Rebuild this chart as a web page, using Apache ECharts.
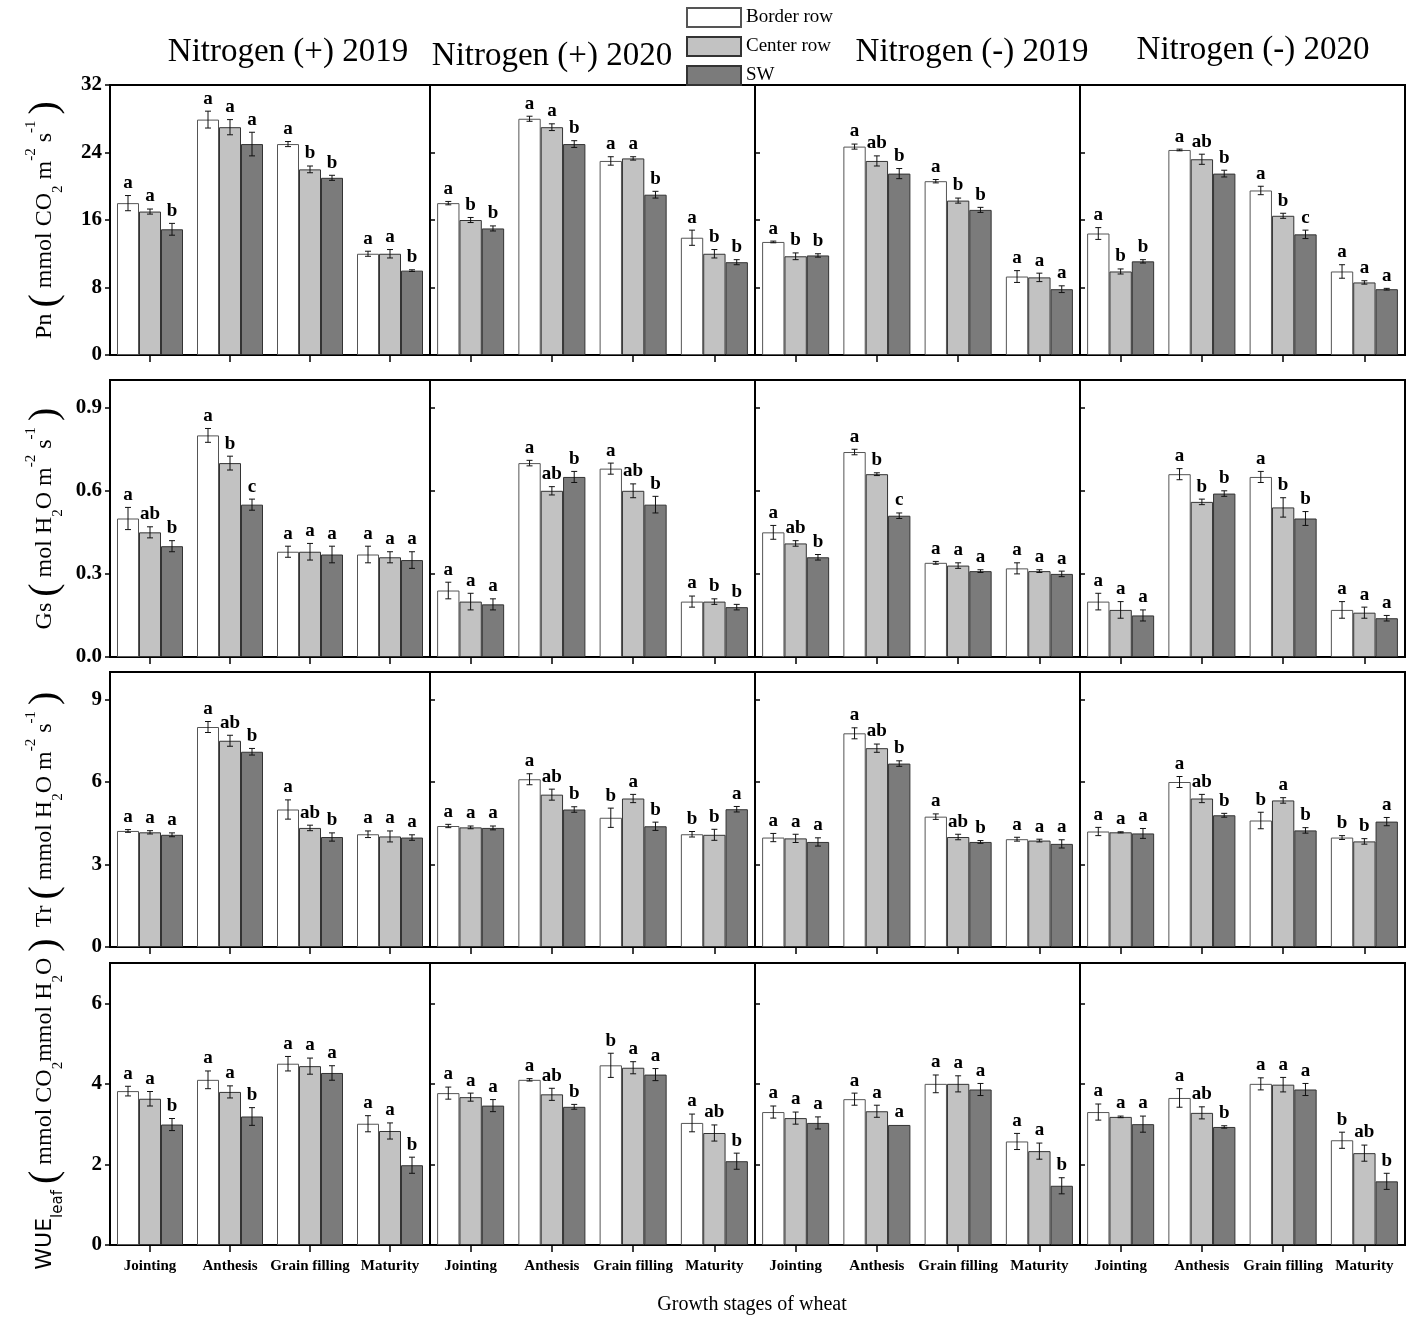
<!DOCTYPE html>
<html>
<head>
<meta charset="utf-8">
<title>Growth stages of wheat</title>
<script src="https://cdn.jsdelivr.net/npm/echarts/dist/echarts.min.js"></script>
<style>
  html, body { margin: 0; padding: 0; background: #fff; }
  #chart { width: 1417px; height: 1326px; }
</style>
</head>
<body>
<div id="chart"></div>
<script>
// categories / labels
var stages = ['Jointing', 'Anthesis', 'Grain filling', 'Maturity'];
var treatments = ['Nitrogen (+) 2019', 'Nitrogen (+) 2020', 'Nitrogen (-) 2019', 'Nitrogen (-) 2020'];
var rowTypes = ['Border row', 'Center row', 'SW'];

// Pn, one inner array per treatment (4 stages each)
var pnBorder = [[18.0, 27.9, 25.0, 12.0], [18.0, 28.0, 23.0, 13.9], [13.4, 24.7, 20.6, 9.3], [14.4, 24.3, 19.5, 9.9]];
var pnCenter = [[17.0, 27.0, 22.0, 12.0], [16.0, 27.0, 23.3, 12.0], [11.7, 23.0, 18.3, 9.2], [9.9, 23.2, 16.5, 8.6]];
var pnSW = [[14.9, 25.0, 21.0, 10.0], [15.0, 25.0, 19.0, 11.0], [11.8, 21.5, 17.2, 7.8], [11.1, 21.5, 14.3, 7.8]];
var pnBorderErr = [[0.9, 1.0, 0.3, 0.3], [0.2, 0.3, 0.5, 0.9], [0.1, 0.3, 0.2, 0.7], [0.7, 0.1, 0.5, 0.8]];
var pnCenterErr = [[0.3, 0.9, 0.4, 0.5], [0.3, 0.4, 0.2, 0.5], [0.4, 0.6, 0.3, 0.5], [0.3, 0.6, 0.3, 0.2]];
var pnSWErr = [[0.7, 1.4, 0.3, 0.1], [0.3, 0.4, 0.4, 0.3], [0.2, 0.6, 0.3, 0.4], [0.2, 0.4, 0.5, 0.1]];
var pnLetters = [['a a b', 'a a a', 'a b b', 'a a b'], ['a b b', 'a a b', 'a a b', 'a b b'],
                 ['a b b', 'a ab b', 'a b b', 'a a a'], ['a b b', 'a ab b', 'a b c', 'a a a']];

// Gs
var gsBorder = [[0.50, 0.80, 0.38, 0.37], [0.24, 0.70, 0.68, 0.20], [0.45, 0.74, 0.34, 0.32], [0.20, 0.66, 0.65, 0.17]];
var gsCenter = [[0.45, 0.70, 0.38, 0.36], [0.20, 0.60, 0.60, 0.20], [0.41, 0.66, 0.33, 0.31], [0.17, 0.56, 0.54, 0.16]];
var gsSW = [[0.40, 0.55, 0.37, 0.35], [0.19, 0.65, 0.55, 0.18], [0.36, 0.51, 0.31, 0.30], [0.15, 0.59, 0.50, 0.14]];
var gsBorderErr = [[0.04, 0.025, 0.02, 0.03], [0.03, 0.01, 0.02, 0.02], [0.025, 0.01, 0.005, 0.02], [0.03, 0.02, 0.02, 0.03]];
var gsCenterErr = [[0.02, 0.025, 0.03, 0.02], [0.03, 0.015, 0.025, 0.01], [0.01, 0.005, 0.01, 0.005], [0.03, 0.01, 0.035, 0.02]];
var gsSWErr = [[0.02, 0.02, 0.03, 0.03], [0.02, 0.02, 0.03, 0.01], [0.01, 0.01, 0.005, 0.01], [0.02, 0.01, 0.025, 0.01]];
var gsLetters = [['a ab b', 'a b c', 'a a a', 'a a a'], ['a a a', 'a ab b', 'a ab b', 'a b b'],
                 ['a ab b', 'a b c', 'a a a', 'a a a'], ['a a a', 'a b b', 'a b b', 'a a a']];

// Tr
var trBorder = [[4.22, 8.0, 5.0, 4.1], [4.4, 6.1, 4.7, 4.1], [3.98, 7.77, 4.74, 3.92], [4.2, 6.0, 4.6, 3.98]];
var trCenter = [[4.17, 7.5, 4.33, 4.02], [4.35, 5.54, 5.4, 4.08], [3.95, 7.23, 4.0, 3.87], [4.17, 5.4, 5.33, 3.84]];
var trSW = [[4.08, 7.1, 4.0, 3.98], [4.33, 5.0, 4.39, 5.01], [3.82, 6.67, 3.82, 3.75], [4.13, 4.79, 4.24, 4.56]];
var trBorderErr = [[0.05, 0.2, 0.35, 0.12], [0.06, 0.2, 0.35, 0.1], [0.15, 0.2, 0.1, 0.07], [0.15, 0.2, 0.3, 0.07]];
var trCenterErr = [[0.06, 0.2, 0.1, 0.2], [0.05, 0.2, 0.15, 0.2], [0.15, 0.15, 0.1, 0.05], [0.02, 0.15, 0.1, 0.1]];
var trSWErr = [[0.07, 0.12, 0.15, 0.1], [0.07, 0.1, 0.15, 0.1], [0.15, 0.1, 0.05, 0.15], [0.18, 0.07, 0.1, 0.15]];
var trLetters = [['a a a', 'a ab b', 'a ab b', 'a a a'], ['a a a', 'a ab b', 'b a b', 'b b a'],
                 ['a a a', 'a ab b', 'a ab b', 'a a a'], ['a a a', 'a ab b', 'b a b', 'b b a']];

// WUE leaf
var wueBorder = [[3.82, 4.1, 4.5, 3.01], [3.77, 4.1, 4.46, 3.03], [3.3, 3.62, 4.0, 2.57], [3.3, 3.65, 4.0, 2.6]];
var wueCenter = [[3.63, 3.8, 4.44, 2.83], [3.67, 3.74, 4.4, 2.78], [3.15, 3.32, 4.0, 2.33], [3.18, 3.28, 3.98, 2.28]];
var wueSW = [[2.99, 3.19, 4.27, 1.98], [3.46, 3.43, 4.23, 2.08], [3.03, 2.98, 3.86, 1.47], [3.0, 2.93, 3.86, 1.58]];
var wueBorderErr = [[0.12, 0.22, 0.18, 0.2], [0.15, 0.03, 0.3, 0.22], [0.15, 0.15, 0.22, 0.2], [0.2, 0.23, 0.15, 0.2]];
var wueCenterErr = [[0.18, 0.15, 0.2, 0.2], [0.1, 0.15, 0.15, 0.2], [0.15, 0.15, 0.2, 0.2], [0.02, 0.15, 0.18, 0.2]];
var wueSWErr = [[0.15, 0.22, 0.18, 0.2], [0.15, 0.06, 0.15, 0.2], [0.15, 0, 0.15, 0.2], [0.2, 0.03, 0.15, 0.2]];
var wueLetters = [['a a b', 'a a b', 'a a a', 'a a b'], ['a a a', 'a ab b', 'b a a', 'a ab b'],
                  ['a a a', 'a a a', 'a a a', 'a a b'], ['a a a', 'a ab b', 'a a a', 'b ab b']];

// axis scales per row
var yMax = [32, 1.0, 10, 7];
var yStep = [8, 0.3, 3, 2];
var yNames = [
    'Pn {p|(} mmol CO{sub|2} m{sup|-2} s{sup|-1} {p|)}',
    'Gs {p|(} mol H{sub|2}O m{sup|-2} s{sup|-1} {p|)}',
    'Tr {p|(} mmol H{sub|2}O m{sup|-2} s{sup|-1} {p|)}',
    '{w|WUE}{ws|leaf} {p|(} mmol CO{sub|2}mmol H{sub|2}O {p|)}'
];

var rows = [
    {vals: [pnBorder, pnCenter, pnSW], errs: [pnBorderErr, pnCenterErr, pnSWErr], letters: pnLetters},
    {vals: [gsBorder, gsCenter, gsSW], errs: [gsBorderErr, gsCenterErr, gsSWErr], letters: gsLetters},
    {vals: [trBorder, trCenter, trSW], errs: [trBorderErr, trCenterErr, trSWErr], letters: trLetters},
    {vals: [wueBorder, wueCenter, wueSW], errs: [wueBorderErr, wueCenterErr, wueSWErr], letters: wueLetters}
];

var colX = [110, 430, 755, 1080, 1405];
var rowY = [[85, 355], [380, 657], [672, 947], [963, 1245]];
var barColors = ['#ffffff', '#c2c2c2', '#7b7b7b'];
var barEdges = ['#555555', '#333333', '#333333'];
var serif = 'Liberation Serif';

var myChart = echarts.init(document.getElementById('chart'));

function errRender(s, letterList) {
    return function (params, api) {
        var ci = api.value(0), v = api.value(1), e = api.value(2);
        var w = api.size([1, 0])[0];
        var x = api.coord([ci, v])[0] + (s - 1) * w * 0.275;
        var yt = api.coord([ci, v + e])[1];
        var yb = api.coord([ci, v - e])[1];
        var st = {stroke: '#111', lineWidth: 1};
        var kids = [];
        if (e > 0) {
            kids.push({type: 'line', shape: {x1: x, y1: yt, x2: x, y2: yb}, style: st});
            kids.push({type: 'line', shape: {x1: x - 3, y1: yt, x2: x + 3, y2: yt}, style: st});
            kids.push({type: 'line', shape: {x1: x - 3, y1: yb, x2: x + 3, y2: yb}, style: st});
        }
        kids.push({
            type: 'text', x: x, y: yt - 3,
            style: {
                text: letterList[ci].split(' ')[s],
                align: 'center', verticalAlign: 'bottom',
                textAlign: 'center', textVerticalAlign: 'bottom',
                font: 'bold 19px "' + serif + '"', fill: '#000'
            }
        });
        return {type: 'group', children: kids};
    };
}

var grids = [], xAxes = [], yAxes = [], series = [];
for (var r = 0; r < 4; r++) {
    for (var c = 0; c < 4; c++) {
        var g = r * 4 + c;
        grids.push({
            left: colX[c], width: colX[c + 1] - colX[c],
            top: rowY[r][0], height: rowY[r][1] - rowY[r][0],
            show: true, borderColor: '#000', borderWidth: 2,
            containLabel: false, outerBoundsMode: 'none'
        });
        xAxes.push({
            gridIndex: g, type: 'category', data: stages,
            axisLine: {show: true, lineStyle: {color: '#000', width: 2}},
            axisTick: {show: true, alignWithLabel: true, length: 7, lineStyle: {color: '#000', width: 1.5}},
            axisLabel: {
                show: r === 3, interval: 0, margin: 14, color: '#000',
                fontFamily: serif, fontWeight: 'bold', fontSize: 15
            },
            splitLine: {show: false}
        });
        yAxes.push({
            gridIndex: g, type: 'value', min: 0, max: yMax[r], interval: yStep[r],
            axisLine: {show: true, lineStyle: {color: '#000', width: 2}},
            axisTick: {show: true, inside: c > 0, length: 5, lineStyle: {color: '#000', width: 1.5}},
            axisLabel: {
                show: c === 0, showMaxLabel: r === 0, margin: 8, color: '#000',
                fontFamily: serif, fontWeight: 'bold', fontSize: 21,
                formatter: (function (rr) {
                    return function (v) { return rr === 1 ? v.toFixed(1) : String(v); };
                })(r)
            },
            splitLine: {show: false},
            name: c === 0 ? yNames[r] : '',
            nameLocation: 'middle', nameGap: 44, nameRotate: 90, nameMoveOverlap: false,
            nameTextStyle: {
                fontFamily: serif, fontSize: 24, color: '#000', lineHeight: 42,
                rich: {
                    p: {fontFamily: serif, fontSize: 40, lineHeight: 42, color: '#000'},
                    sub: {fontFamily: serif, fontSize: 15, lineHeight: 17, verticalAlign: 'bottom', color: '#000'},
                    sup: {fontFamily: serif, fontSize: 15, lineHeight: 17, verticalAlign: 'top', color: '#000'},
                    w: {fontFamily: 'DejaVu Sans', fontSize: 22, lineHeight: 42, color: '#000'},
                    ws: {fontFamily: 'DejaVu Sans', fontSize: 15, lineHeight: 15, verticalAlign: 'bottom', color: '#000'}
                }
            }
        });
        for (var s = 0; s < 3; s++) {
            var vals = rows[r].vals[s][c];
            var errs = rows[r].errs[s][c];
            series.push({
                name: rowTypes[s], type: 'bar', xAxisIndex: g, yAxisIndex: g,
                data: vals, barGap: '0%', barCategoryGap: '17.5%',
                itemStyle: {color: barColors[s], borderColor: barEdges[s], borderWidth: 1},
                emphasis: {disabled: true}, animation: false
            });
            var errData = [];
            for (var k = 0; k < 4; k++) errData.push([k, vals[k], errs[k]]);
            series.push({
                type: 'custom', xAxisIndex: g, yAxisIndex: g, data: errData,
                renderItem: errRender(s, rows[r].letters[c]),
                silent: true, animation: false, z: 5
            });
        }
    }
}

var titleX = [288, 552, 972, 1253];
var titleY = [52, 56, 52, 50];
var graphics = [];
for (var t = 0; t < 4; t++) {
    graphics.push({
        type: 'text', x: titleX[t], y: titleY[t],
        style: {
            text: treatments[t], align: 'center', verticalAlign: 'middle',
            textAlign: 'center', textVerticalAlign: 'middle',
            font: '33px "' + serif + '"', fill: '#000'
        }
    });
}
graphics.push({
    type: 'text', x: 752, y: 1305,
    style: {
        text: 'Growth stages of wheat', align: 'center', verticalAlign: 'middle',
        textAlign: 'center', textVerticalAlign: 'middle',
        font: '20px "' + serif + '"', fill: '#000'
    }
});

var option = {
    backgroundColor: '#fff',
    animation: false,
    legend: {
        data: rowTypes, orient: 'vertical', left: 681, top: 2,
        itemWidth: 54, itemHeight: 19, itemGap: 8,
        icon: 'rect',
        textStyle: {fontFamily: serif, fontSize: 19, color: '#000'},
        selectedMode: false
    },
    grid: grids,
    xAxis: xAxes,
    yAxis: yAxes,
    series: series,
    graphic: graphics
};

myChart.setOption(option);
</script>
</body>
</html>
